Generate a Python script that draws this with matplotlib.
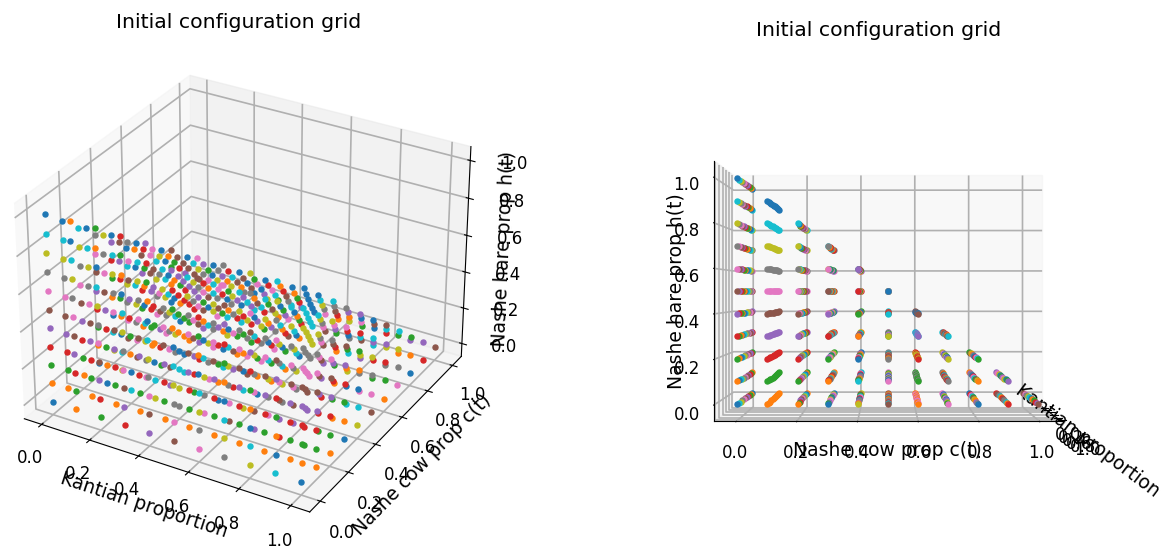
#initial configuration grid, two views of same points
import matplotlib
matplotlib.use('Agg')
import matplotlib.pyplot as plt

#grid values, hare list gets cut so that cow + hare <= 1
cow_list     = [0.0, 0.1, 0.2, 0.3, 0.4, 0.5, 0.6, 0.7, 0.8, 0.9, 1.0]
kantian_list = [0.0, 0.1, 0.2, 0.3, 0.4, 0.5, 0.6, 0.7, 0.8, 0.9, 1.0]
hare_list    = [0.0, 0.1, 0.2, 0.3, 0.4, 0.5, 0.6, 0.7, 0.8, 0.9, 1.0]
hare_counts  = [11, 10, 9, 8, 7, 6, 5, 4, 3, 2, 1]

title_text = 'Initial configuration grid'
xlab_text  = 'Kantian proportion'
ylab_text  = 'Nashe cow prop c(t)'
zlab_text  = 'Nashe hare prop h(t)'

plt.rcParams['font.size'] = 12
plt.rcParams['grid.linewidth'] = 1.2

W, H = 1161, 555
fig = plt.figure(figsize=(W/100, H/100), dpi=100)

def draw_view(cx, cy, elev, azim, title_x, tick_pads, label_pads):
    #cx, cy => axes centre in pixels from top left
    size = 508
    pos = [(cx - size/2)/W, 1 - (cy + size/2)/H, size/W, size/H]
    ax = fig.add_axes(pos, projection='3d')
    #one scatter per point => colour comes from the cycle
    for i, c in enumerate(cow_list):
        for k in kantian_list:
            for h in hare_list[:hare_counts[i]]:
                ax.scatter(k, c, h, s=13, depthshade=False)
    ax.set_xlabel(xlab_text, fontsize=13.5, labelpad=label_pads[0])
    ax.set_ylabel(ylab_text, fontsize=13.5, labelpad=label_pads[1])
    ax.set_zlabel(zlab_text, fontsize=13.5, labelpad=label_pads[2])
    ax.tick_params(axis='x', pad=tick_pads[0])
    ax.tick_params(axis='y', pad=tick_pads[1])
    ax.tick_params(axis='z', pad=tick_pads[2])
    ax.set_title(title_text, fontsize=14.7, x=title_x, pad=6)
    ax.view_init(elev=elev, azim=azim)
    return ax

ax1 = draw_view(240, 290, 30, -60, 0.498, (5, 6, 11), (0, 1, -4))
ax2 = draw_view(881, 298, 0, 0, 0.496, (7, 7, 6), (0, -1, -2))

fig.savefig('out.png', dpi=100)
